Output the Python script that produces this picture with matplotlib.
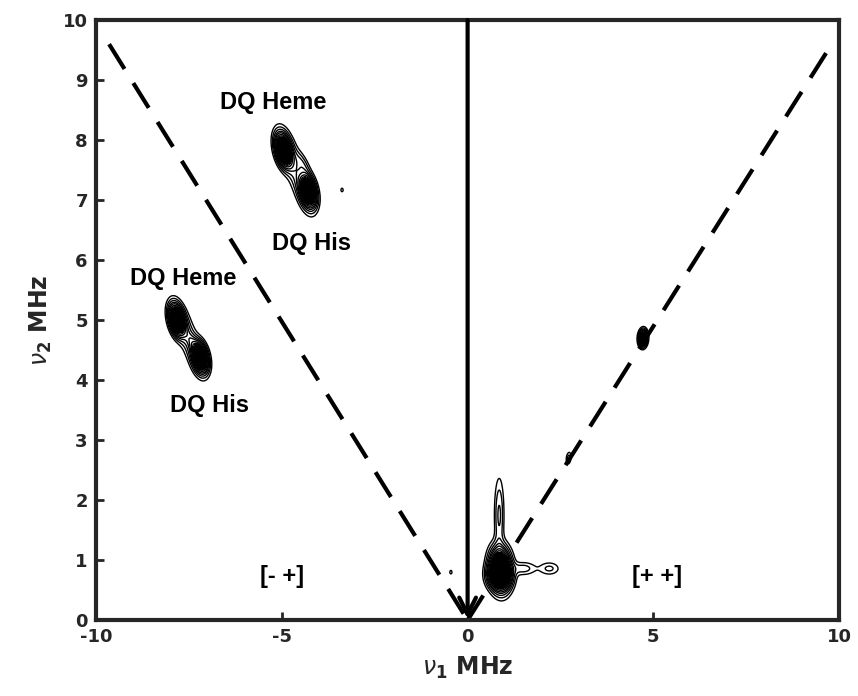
import matplotlib
matplotlib.use("Agg")
import matplotlib.pyplot as plt
import numpy as np

# peak table: x0, y0, long sigma, short sigma, angle (deg), amplitude
peak_x = [-4.95, -4.30, -4.62, -4.45, -7.82, -7.20, -7.50, -7.40,
          0.88, 0.85, 0.85, 1.50, 2.20, 4.72, 2.72, -3.38, -0.45]
peak_y = [7.83, 7.15, 7.48, 7.60, 5.00, 4.38, 4.68, 4.62,
          0.85, 0.75, 1.75, 0.86, 0.86, 4.70, 2.70, 7.17, 0.80]
peak_long = [0.17, 0.16, 0.42, 0.16, 0.16, 0.15, 0.36, 0.14,
             0.20, 0.17, 0.38, 0.22, 0.18, 0.08, 0.07, 0.025, 0.025]
peak_short = [0.11, 0.11, 0.14, 0.08, 0.105, 0.105, 0.13, 0.07,
              0.16, 0.12, 0.08, 0.07, 0.07, 0.065, 0.045, 0.025, 0.025]
peak_angle = [-60, -60, -60, -45, -60, -60, -60, -45,
              -80, 0, 90, 0, 0, 80, 75, 0, 0]
peak_amp = [1.0, 1.0, 0.12, 0.08, 1.0, 1.0, 0.12, 0.08,
            1.0, 0.6, 0.11, 0.08, 0.07, 0.6, 0.08, 0.06, 0.06]

labels = ["DQ Heme", "DQ His", "DQ Heme", "DQ His", "[- +]", "[+ +]"]
label_x = [-5.22, -4.2, -7.65, -6.95, -5.0, 5.09]
label_y = [8.63, 6.28, 5.70, 3.58, 0.72, 0.72]

xticks = [-10, -5, 0, 5, 10]
yticks = [0, 1, 2, 3, 4, 5, 6, 7, 8, 9, 10]

x = np.linspace(-10, 10, 1200)
y = np.linspace(0, 10, 700)
X, Y = np.meshgrid(x, y)
Z = np.zeros_like(X)
for x0, y0, sl, ss, ang, amp in zip(peak_x, peak_y, peak_long, peak_short,
                                    peak_angle, peak_amp):
    t = np.deg2rad(ang)
    u = (X - x0) * np.cos(t) + (Y - y0) * np.sin(t)
    v = -(X - x0) * np.sin(t) + (Y - y0) * np.cos(t)
    Z += amp * np.exp(-0.5 * ((u / sl) ** 2 + (v / ss) ** 2))

fig = plt.figure(figsize=(8.58, 6.96), dpi=100)
ax = fig.add_axes([0.112, 0.109, 0.866, 0.862])

levels = [0.03, 0.06, 0.10, 0.15, 0.2, 0.27, 0.34, 0.42, 0.5, 0.58,
          0.66, 0.74, 0.82, 0.9, 0.96]
ax.contour(X, Y, Z, levels=levels, colors='black', linewidths=1.0)
ax.contourf(X, Y, Z, levels=[0.4, 10], colors='black')

ax.plot([-9.65, 0], [9.6, 0], color='black', lw=3, linestyle=(0, (7, 4)))
ax.plot([0, 9.8], [0, 9.6], color='black', lw=3, linestyle=(0, (7, 4)))
ax.annotate('', xy=(0, 0.02), xytext=(0, 10),
            arrowprops=dict(arrowstyle='->,head_length=1.2,head_width=0.6',
                            color='black', lw=3, shrinkA=0, shrinkB=0))

for s, lx, ly in zip(labels, label_x, label_y):
    ax.text(lx, ly, s, ha='center', va='center', fontsize=17,
            fontweight='bold', family='Liberation Sans')

ax.set_xlim(-10, 10)
ax.set_ylim(0, 10)
ax.set_xticks(xticks)
ax.set_yticks(yticks)
ax.set_xticklabels([str(t) for t in xticks], fontweight='bold', fontsize=13)
ax.set_yticklabels([str(t) for t in yticks], fontweight='bold', fontsize=13)
ax.tick_params(direction='in', length=6, width=2, color='#262626',
               labelcolor='#262626', pad=6)
for sp in ax.spines.values():
    sp.set_linewidth(3)
    sp.set_color('#262626')

ax.set_xlabel(r'$\nu_{\mathbf{1}}$ MHz', fontsize=17, fontweight='bold',
              color='#262626', labelpad=6)
ax.set_ylabel(r'$\nu_{\mathbf{2}}$ MHz', fontsize=17, fontweight='bold',
              color='#262626', labelpad=6)

fig.savefig('out.png', dpi=100)
